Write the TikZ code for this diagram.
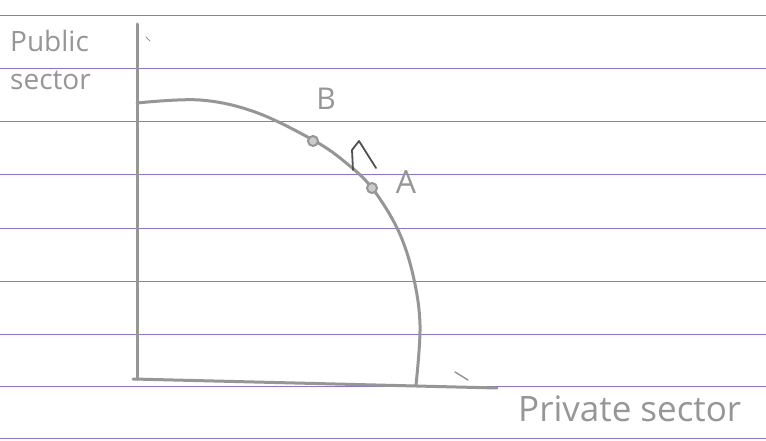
\documentclass[tikz,border=0pt]{standalone}
\usepackage{fontspec}
\setmainfont{Open Sans}
\begin{document}
\begin{tikzpicture}[x=1pt,y=-1pt,
  pencil/.style={draw=pencilgray,line width=3pt,line cap=round,line join=round},
  rule/.style={draw=rulepurple,line width=1pt},
  dotmark/.style={circle,draw=pencilgray,fill=pencilgray!50,line width=2pt,inner sep=0pt,minimum size=10pt},
  hand/.style={text=pencilgray,inner sep=0pt}]
\definecolor{pencilgray}{RGB}{150,150,150}
\definecolor{rulepurple}{RGB}{140,118,205}
\definecolor{inkdark}{RGB}{80,80,80}
\useasboundingbox[fill=white] (0,0) rectangle (766,441);
% ruled lines
\foreach \yy in {16,69,122,175,228,281,334,386,438}{
  \draw[rule] (0,\yy) -- (766,\yy);
}
% axes
\coordinate (o) at (137,379);
\coordinate (ytop) at (137,24);
\coordinate (xl) at (133,379);
\coordinate (xr) at (497,388);
\draw[pencil] (ytop) -- (o);
\draw[pencil] (xl) -- (xr);
\coordinate (t1) at (455,372);
\coordinate (t2) at (468,380);
\draw[pencil,line width=1.5pt] (t1) -- (t2);
\coordinate (m1) at (146,37);
\coordinate (m2) at (150,41);
\draw[pencil,line width=1pt] (m1) -- (m2);
% PPF curve
\draw[pencil] plot[smooth,tension=0.6] coordinates {(137,103) (200,100) (255,112) (313,140) (345,162) (372,188) (398,230) (413,275) (420,325) (416,385)};
% points
\node[dotmark] (B) at (313,141) {};
\node[dotmark] (A) at (372,188) {};
\node[hand,font=\fontsize{30}{32}\selectfont] (Bl) at (326,99) {B};
\node[hand,font=\fontsize{32}{34}\selectfont] (Al) at (406,182) {A};
% small arrow mark
\coordinate (h1) at (353,170);
\coordinate (h2) at (352,150);
\coordinate (h3) at (359,141);
\coordinate (h4) at (376,168);
\draw[draw=inkdark,line width=1.8pt,line cap=round,line join=round] (h1) -- (h2) -- (h3) -- (h4);
% labels
\node[hand,font=\fontsize{28}{38}\selectfont,align=left,anchor=north west] (pub) at (10,30) {Public\\sector};
\node[hand,font=\fontsize{35}{38}\selectfont,anchor=west] (priv) at (518,409) {Private sector};
\end{tikzpicture}
\end{document}
